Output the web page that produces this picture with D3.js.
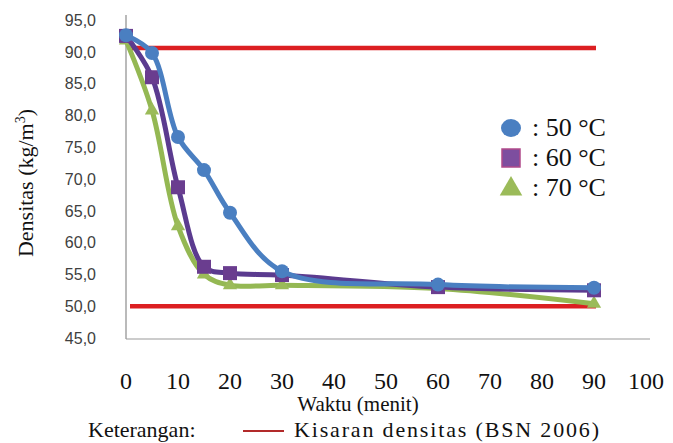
<!DOCTYPE html>
<html><head><meta charset="utf-8">
<script src="https://cdn.jsdelivr.net/npm/d3@7"></script>
<style>body{margin:0;background:#fff}svg{display:block}
.serif{font-family:"Liberation Serif","Times New Roman","DejaVu Serif",serif;fill:#111}
.sans{font-family:"Liberation Sans",Arial,sans-serif}
</style>
</head><body>
<svg id="c" width="673" height="443"></svg>
<script>
const times = [0, 5, 10, 15, 20, 30, 60, 90];
const s50 = [92.6, 89.8, 76.6, 71.4, 64.7, 55.5, 53.4, 52.9];
const s60 = [92.5, 86.0, 68.7, 56.2, 55.2, 54.9, 53.0, 52.5];
const s70 = [91.8, 80.8, 62.6, 55.0, 53.3, 53.3, 52.8, 50.4];
const bsnRange = [50.0, 90.6];
const yTicks = [45, 50, 55, 60, 65, 70, 75, 80, 85, 90, 95];
const xTicks = [0, 10, 20, 30, 40, 50, 60, 70, 80, 90, 100];
const seriesNames = [": 50 \u00B0C", ": 60 \u00B0C", ": 70 \u00B0C"];

const svg = d3.select("#c");
const x = d3.scaleLinear().domain([0, 100]).range([126, 646]);
const y = d3.scaleLinear().domain([45, 95]).range([338, 20]);

// axes lines
svg.append("line").attr("x1", 126).attr("x2", 126).attr("y1", 15).attr("y2", 339)
  .attr("stroke", "#8c8c8c").attr("stroke-width", 1.2);
svg.append("line").attr("x1", 126).attr("x2", 650).attr("y1", 339).attr("y2", 339)
  .attr("stroke", "#9a9a9a").attr("stroke-width", 1.2);

// y tick labels
svg.selectAll("text.yt").data(yTicks).enter().append("text")
  .attr("class", "yt sans").attr("x", 96).attr("y", d => y(d)).attr("dy", "0.36em")
  .attr("text-anchor", "end").attr("font-size", 16).attr("fill", "#404040")
  .text(d => d3.format(".1f")(d).replace(".", ","));

// x tick labels
svg.selectAll("text.xt").data(xTicks).enter().append("text")
  .attr("class", "xt serif").attr("x", d => x(d)).attr("y", 389)
  .attr("text-anchor", "middle").attr("font-size", 24).text(d => d);

// axis titles
svg.append("text").attr("class", "serif").attr("x", 358).attr("y", 411).attr("text-anchor", "middle")
  .attr("font-size", 21).text("Waktu (menit)");
const yt = svg.append("text").attr("class", "serif").attr("transform", "translate(33,183) rotate(-90)")
  .attr("text-anchor", "middle").attr("font-size", 22);
yt.append("tspan").text("Densitas (kg/m");
yt.append("tspan").attr("dy", -8).attr("font-size", 14).text("3");
yt.append("tspan").attr("dy", 8).text(")");

// BSN red lines
svg.selectAll("line.bsn").data(bsnRange).enter().append("line")
  .attr("class", "bsn").attr("x1", x(times[0]) + 4).attr("x2", x(times[times.length - 1]) + 2)
  .attr("y1", d => y(d)).attr("y2", d => y(d))
  .attr("stroke", "#dc1f22").attr("stroke-width", 4.5);

const series = [
  {vals: s70, color: "#9bbb59", stroke: "#94b853", shape: "tri"},
  {vals: s60, color: "#6a3d8f", stroke: "#5b3b8f", shape: "sq"},
  {vals: s50, color: "#4a7fc1", stroke: "#4a7fc1", shape: "circ"}
];
const line = d3.line().x((d, i) => x(times[i])).y(d => y(d)).curve(d3.curveCatmullRom.alpha(0.5));

function marker(g, shape, color, cx, cy, s) {
  if (shape === "circ") g.append("circle").attr("cx", cx).attr("cy", cy).attr("r", s * 0.5).attr("fill", color);
  else if (shape === "sq") g.append("rect").attr("x", cx - s / 2).attr("y", cy - s / 2).attr("width", s).attr("height", s).attr("fill", color);
  else g.append("path").attr("d", d3.symbol(d3.symbolTriangle, s * s * 0.45)()).attr("transform", `translate(${cx},${cy})`).attr("fill", color);
}

series.forEach(s => {
  const g = svg.append("g");
  g.append("path").attr("d", line(s.vals)).attr("fill", "none")
    .attr("stroke", s.stroke).attr("stroke-width", 5).attr("stroke-linejoin", "round");
  s.vals.forEach((v, i) => marker(g, s.shape, s.color, x(times[i]), y(v), 14));
});

// legend
const lg = svg.append("g");
const legendShapes = [["circ", "#4a7fc1"], ["sq", "#7d4e9f"], ["tri", "#9bbb59"]];
legendShapes.forEach((ls, i) => {
  const cy = 128 + i * 30;
  if (ls[0] === "sq") lg.append("rect").attr("x", 502).attr("y", cy - 9).attr("width", 18).attr("height", 18)
    .attr("fill", ls[1]).attr("stroke", "#b04a8a").attr("stroke-width", 1.5);
  else if (ls[0] === "circ") lg.append("ellipse").attr("cx", 511).attr("cy", cy).attr("rx", 10).attr("ry", 9).attr("fill", ls[1]);
  else lg.append("path").attr("d", d3.symbol(d3.symbolTriangle, 220)()).attr("transform", `translate(511,${cy + 1})`).attr("fill", ls[1]);
  lg.append("text").attr("class", "serif").attr("x", 532).attr("y", cy + 8)
    .attr("font-size", 26).text(seriesNames[i]);
});

// bottom note
svg.append("text").attr("class", "serif").attr("x", 88).attr("y", 437)
  .attr("font-size", 22).text("Keterangan:");
svg.append("line").attr("x1", 243).attr("x2", 284).attr("y1", 431).attr("y2", 431)
  .attr("stroke", "#b22a2a").attr("stroke-width", 2);
svg.append("text").attr("class", "serif").attr("x", 294).attr("y", 437)
  .attr("font-size", 22).attr("textLength", 305).text("Kisaran densitas (BSN 2006)");
</script>
</body></html>
